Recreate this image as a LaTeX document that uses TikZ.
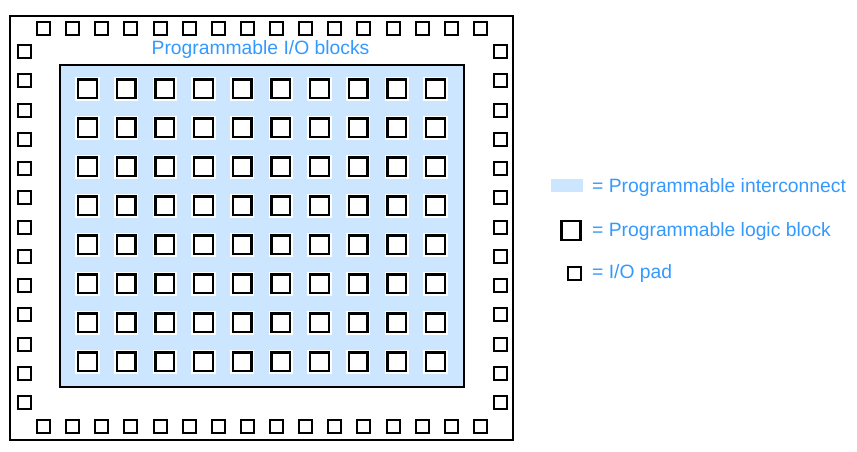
\documentclass[tikz,border=0pt]{standalone}
\usepackage{fontspec}
\setmainfont{Liberation Sans}
\definecolor{lblue}{HTML}{3399FF}
\definecolor{ifill}{HTML}{CCE6FF}
\begin{document}
\begin{tikzpicture}[x=1pt,y=-1pt,
  pad/.style={draw=black,fill=white,line width=2pt,minimum size=13pt,inner sep=0pt,outer sep=0pt},
  logic/.style={draw=black,fill=white,line width=2.4pt,minimum size=18.7pt,inner sep=0pt,
    preaction={draw=white,line width=5.5pt}},
  lbl/.style={text=lblue,font=\fontsize{19.3}{22}\selectfont,inner sep=0pt}]
\useasboundingbox (0,0) rectangle (857,452);
% outer frame
\node[draw=black,line width=2pt,minimum width=503pt,minimum height=424pt,inner sep=0pt,anchor=north west] (chip) at (9,15) {};
% interconnect
\node[draw=black,fill=ifill,line width=1.6pt,minimum width=404pt,minimum height=322pt,inner sep=0pt,anchor=north west] (ic) at (59,64) {};
% top/bottom pads
\foreach \i in {0,...,15}{
  \node[pad] (padT\i) at ({43.5+round(\i*29.13)},28.5) {};
  \node[pad] (padB\i) at ({43.5+round(\i*29.13)},426.5) {};
}
% left/right pads
\foreach \j in {0,...,12}{
  \node[pad] (padL\j) at (24.5,{51.5+round(\j*29.25)}) {};
  \node[pad] (padR\j) at (500.5,{51.5+round(\j*29.25)}) {};
}
% logic blocks
\foreach \i in {0,...,9}{
  \foreach \j in {0,...,7}{
    \node[logic] (lb\i-\j) at ({87.5+\i*38.67},{88.8+\j*39}) {};
  }
}
\node[lbl,anchor=base] (title) at (260.5,55) {Programmable I/O blocks};
% legend
\node[fill=ifill,minimum width=32pt,minimum height=13pt,inner sep=0pt,anchor=north west] (legIC) at (551,179) {};
\node[lbl,anchor=base west] (legICt) at (592,192) {= Programmable interconnect};
\node[logic,preaction={}] (legLB) at (571,230.5) {};
\node[lbl,anchor=base west] (legLBt) at (592,236) {= Programmable logic block};
\node[pad] (legIO) at (574.5,273.5) {};
\node[lbl,anchor=base west] (legIOt) at (592,278) {= I/O pad};
\end{tikzpicture}
\end{document}
